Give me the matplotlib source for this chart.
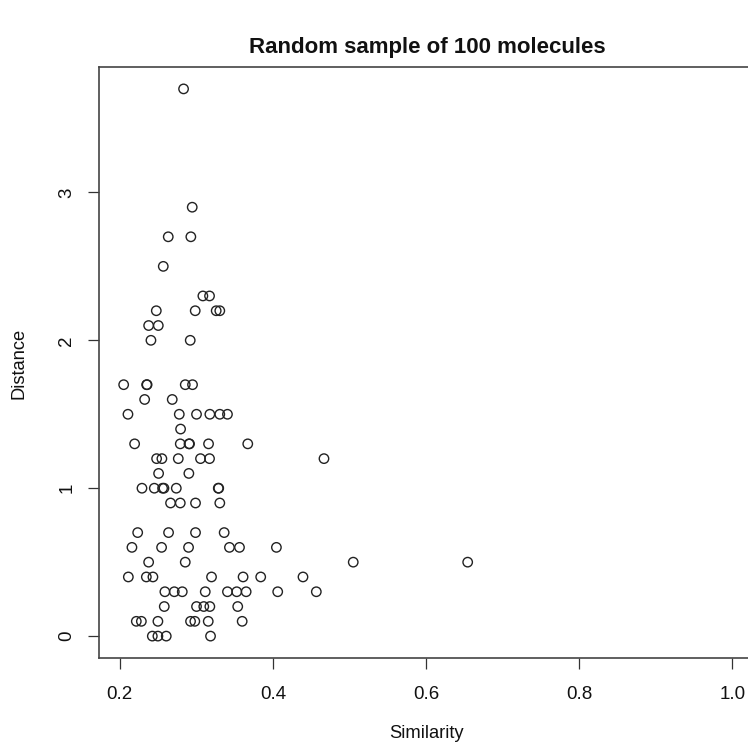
import matplotlib
matplotlib.use("Agg")
import matplotlib.pyplot as plt

plt.rcParams['font.family'] = ['Liberation Sans', 'DejaVu Sans']

similarity = [
    0.2834,
    0.2947,
    0.2634, 0.2929,
    0.2569,
    0.3086, 0.3173,
    0.2478, 0.2986, 0.3260, 0.3307,
    0.2378, 0.2504,
    0.2408, 0.2921,
    0.2052, 0.2352, 0.2358, 0.2856, 0.2951,
    0.2326, 0.2686,
    0.2108, 0.2778, 0.3003, 0.3177, 0.3307, 0.3407,
    0.2795,
    0.2195, 0.2791, 0.2905, 0.2912, 0.3160, 0.3672,
    0.2482, 0.2551, 0.2765, 0.3055, 0.3173, 0.4667,
    0.2508, 0.2903,
    0.2291, 0.2452, 0.2560, 0.2578, 0.2739, 0.3287, 0.3293,
    0.2664, 0.2791, 0.2990, 0.3307,
    0.2235, 0.2638, 0.2990, 0.3364,
    0.2160, 0.2547, 0.2899, 0.3433, 0.3564, 0.4046,
    0.2378, 0.2856, 0.5049, 0.6543,
    0.2113, 0.2348, 0.2434, 0.3199, 0.3611, 0.3841, 0.4393,
    0.2590, 0.2713, 0.2817, 0.3117, 0.3407, 0.3528, 0.3651, 0.4063, 0.4567,
    0.2582, 0.3003, 0.3098, 0.3177, 0.3541,
    0.2217, 0.2283, 0.2499, 0.2925, 0.2981, 0.3156, 0.3599,
    0.2426, 0.2499, 0.2608, 0.3186,
]
distance = (
    [3.7] + [2.9] + [2.7] * 2 + [2.5] + [2.3] * 2 + [2.2] * 4 + [2.1] * 2 + [2.0] * 2
    + [1.7] * 5 + [1.6] * 2 + [1.5] * 6 + [1.4] + [1.3] * 6 + [1.2] * 6 + [1.1] * 2
    + [1.0] * 7 + [0.9] * 4 + [0.7] * 4 + [0.6] * 6 + [0.5] * 4 + [0.4] * 7
    + [0.3] * 9 + [0.2] * 5 + [0.1] * 7 + [0.0] * 4
)

x_ticks = [0.2, 0.4, 0.6, 0.8, 1.0]
x_tick_labels = ["0.2", "0.4", "0.6", "0.8", "1.0"]
y_ticks = [0, 1, 2, 3]
y_tick_labels = ["0", "1", "2", "3"]

W, H = 748, 746
fig = plt.figure(figsize=(W / 100, H / 100), dpi=100)
left, right, top, bottom = 99, 757, 67, 658
ax = fig.add_axes([left / W, 1 - bottom / H, (right - left) / W, (bottom - top) / H])

ax.scatter(similarity, distance, s=46, facecolors='none', edgecolors='#222222', linewidths=1.0)

ax.set_xlim(0.173, 1.032)
ax.set_ylim(-0.148, 3.848)
ax.set_xticks(x_ticks)
ax.set_xticklabels(x_tick_labels)
ax.set_yticks(y_ticks)
ax.set_yticklabels(y_tick_labels, rotation=90, va='center')
ax.tick_params(axis='both', direction='out', length=8, width=0.9, labelsize=13.5,
               colors='#333333', labelcolor='#111111')
ax.tick_params(axis='x', pad=12)
ax.tick_params(axis='y', pad=9)
for name, sp in ax.spines.items():
    sp.set_linewidth(1.2)
    sp.set_color('#444444')
ax.spines['right'].set_visible(False)

fig.text(427 / W, 1 - 47 / H, "Random sample of 100 molecules", ha='center', va='center',
         fontsize=16, fontweight='bold', color='#111111')
fig.text(427 / W, 1 - 734 / H, "Similarity", ha='center', va='center', fontsize=13.2,
         color='#111111')
fig.text(19 / W, 1 - 363 / H, "Distance", ha='center', va='center', rotation=90,
         fontsize=13.2, color='#111111')

fig.savefig("out.png", dpi=100)
